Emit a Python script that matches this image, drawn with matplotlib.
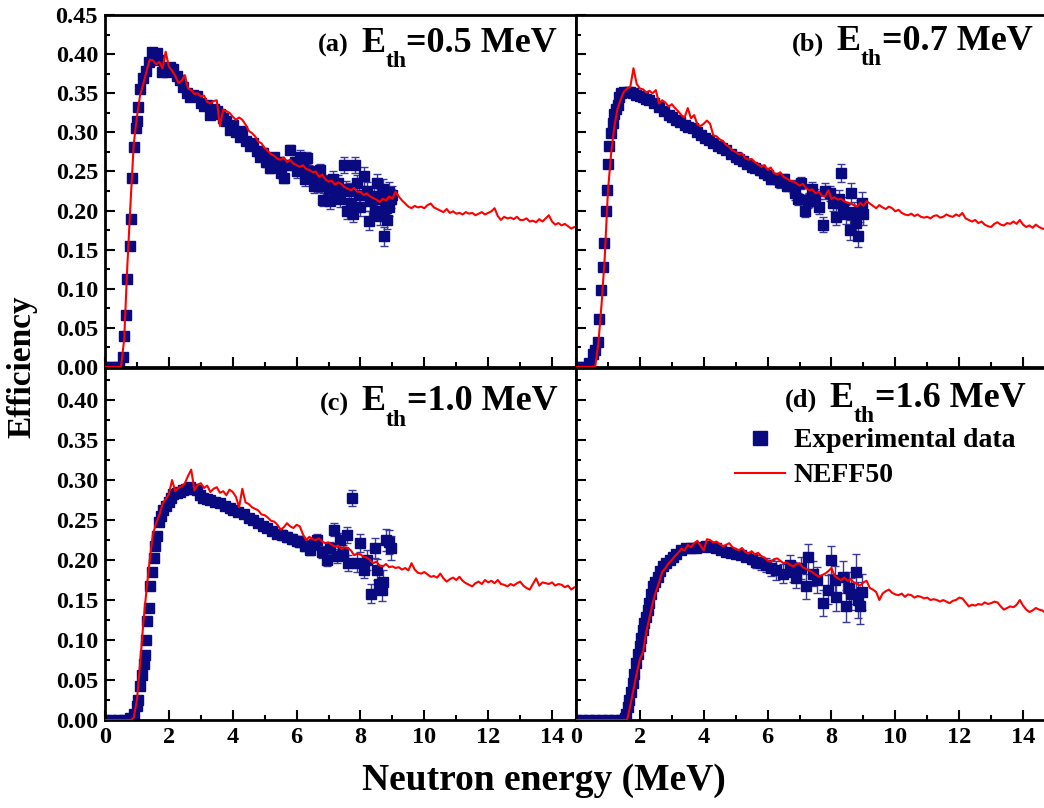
import matplotlib
matplotlib.use('Agg')
import matplotlib.pyplot as plt
import numpy as np
from matplotlib.lines import Line2D
from matplotlib.ticker import MultipleLocator, FormatStrFormatter

plt.rcParams['font.family'] = ['Liberation Serif', 'DejaVu Serif']
plt.rcParams['font.weight'] = 'bold'

# NEFF50 simulation, 0.1 MeV bins from 0 to 15 MeV (one row = 1 MeV)
sim_energy = np.round(np.arange(151) * 0.1, 1)

sim_a = [0, 0, 0, 0, 0, 0, 0.035, 0.13, 0.21, 0.285,
         0.320, 0.348, 0.362, 0.378, 0.393, 0.392, 0.387, 0.390, 0.382, 0.403,
         0.384, 0.379, 0.372, 0.363, 0.366, 0.373, 0.356, 0.354, 0.349, 0.350,
         0.346, 0.347, 0.339, 0.337, 0.340, 0.341, 0.308, 0.329, 0.327, 0.325,
         0.320, 0.316, 0.319, 0.316, 0.310, 0.302, 0.299, 0.295, 0.288, 0.286,
         0.280, 0.276, 0.272, 0.270, 0.266, 0.265, 0.268, 0.262, 0.265, 0.260,
         0.258, 0.256, 0.258, 0.253, 0.252, 0.249, 0.250, 0.243, 0.246, 0.240,
         0.237, 0.238, 0.233, 0.236, 0.234, 0.230, 0.228, 0.226, 0.229, 0.224,
         0.224, 0.220, 0.222, 0.218, 0.216, 0.214, 0.211, 0.215, 0.213, 0.218,
         0.215, 0.224, 0.218, 0.213, 0.209, 0.205, 0.203, 0.206, 0.204, 0.205,
         0.203, 0.207, 0.209, 0.204, 0.202, 0.200, 0.198, 0.202, 0.197, 0.199,
         0.196, 0.197, 0.195, 0.198, 0.196, 0.197, 0.194, 0.196, 0.198, 0.195,
         0.197, 0.199, 0.203, 0.193, 0.188, 0.192, 0.190, 0.191, 0.189, 0.192,
         0.188, 0.188, 0.190, 0.186, 0.187, 0.185, 0.189, 0.186, 0.190, 0.194,
         0.186, 0.182, 0.184, 0.181, 0.183, 0.180, 0.177, 0.179, 0.178, 0.177,
         0.176]

sim_b = [0, 0, 0, 0, 0, 0, 0, 0.03, 0.08, 0.14,
         0.225, 0.273, 0.307, 0.330, 0.342, 0.352, 0.356, 0.358, 0.382, 0.362,
         0.356, 0.355, 0.351, 0.353, 0.350, 0.354, 0.337, 0.341, 0.338, 0.333,
         0.336, 0.331, 0.327, 0.322, 0.319, 0.331, 0.318, 0.322, 0.310, 0.308,
         0.311, 0.315, 0.311, 0.296, 0.295, 0.291, 0.289, 0.284, 0.281, 0.277,
         0.275, 0.272, 0.273, 0.267, 0.265, 0.266, 0.262, 0.259, 0.256, 0.258,
         0.252, 0.255, 0.248, 0.246, 0.249, 0.243, 0.241, 0.238, 0.237, 0.235,
         0.232, 0.234, 0.229, 0.226, 0.227, 0.222, 0.224, 0.219, 0.218, 0.226,
         0.215, 0.217, 0.214, 0.215, 0.212, 0.210, 0.209, 0.207, 0.205, 0.210,
         0.206, 0.212, 0.209, 0.206, 0.203, 0.207, 0.204, 0.202, 0.205, 0.203,
         0.199, 0.201, 0.197, 0.195, 0.194, 0.196, 0.193, 0.195, 0.192, 0.191,
         0.192, 0.190, 0.193, 0.194, 0.191, 0.192, 0.195, 0.193, 0.192, 0.195,
         0.193, 0.197, 0.190, 0.188, 0.186, 0.188, 0.184, 0.186, 0.182, 0.180,
         0.179, 0.183, 0.185, 0.182, 0.181, 0.184, 0.183, 0.186, 0.183, 0.188,
         0.182, 0.179, 0.181, 0.178, 0.182, 0.179, 0.177, 0.176, 0.178, 0.175,
         0.176]

sim_c = [0, 0, 0, 0, 0, 0, 0, 0, 0, 0.003,
         0.025, 0.071, 0.121, 0.163, 0.200, 0.232, 0.246, 0.256, 0.270, 0.276,
         0.282, 0.300, 0.286, 0.290, 0.292, 0.296, 0.305, 0.313, 0.287, 0.294,
         0.296, 0.290, 0.293, 0.285, 0.289, 0.291, 0.284, 0.286, 0.281, 0.288,
         0.285, 0.279, 0.266, 0.289, 0.272, 0.270, 0.266, 0.264, 0.262, 0.257,
         0.256, 0.253, 0.249, 0.248, 0.244, 0.238, 0.241, 0.246, 0.242, 0.240,
         0.244, 0.242, 0.232, 0.225, 0.229, 0.226, 0.225, 0.227, 0.223, 0.221,
         0.222, 0.219, 0.217, 0.218, 0.214, 0.216, 0.215, 0.212, 0.206, 0.208,
         0.207, 0.204, 0.203, 0.200, 0.196, 0.198, 0.193, 0.192, 0.195, 0.191,
         0.192, 0.190, 0.191, 0.188, 0.190, 0.187, 0.196, 0.188, 0.184, 0.183,
         0.185, 0.182, 0.179, 0.180, 0.178, 0.183, 0.177, 0.173, 0.176, 0.178,
         0.175, 0.179, 0.174, 0.171, 0.169, 0.167, 0.171, 0.173, 0.170, 0.175,
         0.172, 0.174, 0.171, 0.175, 0.170, 0.169, 0.167, 0.170, 0.168, 0.171,
         0.173, 0.168, 0.165, 0.163, 0.170, 0.177, 0.168, 0.172, 0.171, 0.170,
         0.172, 0.168, 0.170, 0.169, 0.166, 0.168, 0.163, 0.166, 0.165, 0.167,
         0.165]

sim_d = [0, 0, 0, 0, 0, 0, 0, 0, 0, 0,
         0, 0, 0, 0, 0, 0, 0, 0.018, 0.038, 0.058,
         0.076, 0.085, 0.110, 0.128, 0.146, 0.160, 0.172, 0.185, 0.190, 0.196,
         0.200, 0.205, 0.209, 0.214, 0.212, 0.219, 0.216, 0.221, 0.224, 0.218,
         0.212, 0.226, 0.225, 0.222, 0.223, 0.220, 0.217, 0.219, 0.221, 0.216,
         0.214, 0.212, 0.215, 0.210, 0.208, 0.211, 0.207, 0.209, 0.205, 0.203,
         0.199, 0.198, 0.201, 0.202, 0.199, 0.196, 0.197, 0.194, 0.192, 0.195,
         0.196, 0.191, 0.189, 0.187, 0.185, 0.182, 0.179, 0.181, 0.183, 0.186,
         0.190, 0.180, 0.177, 0.175, 0.178, 0.174, 0.176, 0.172, 0.170, 0.168,
         0.172, 0.174, 0.165, 0.163, 0.160, 0.150, 0.158, 0.161, 0.163, 0.159,
         0.157, 0.156, 0.158, 0.154, 0.157, 0.156, 0.153, 0.155, 0.154, 0.152,
         0.153, 0.150, 0.151, 0.150, 0.148, 0.150, 0.148, 0.146, 0.149, 0.150,
         0.153, 0.152, 0.147, 0.142, 0.144, 0.143, 0.145, 0.144, 0.147, 0.145,
         0.146, 0.148, 0.147, 0.142, 0.138, 0.140, 0.142, 0.141, 0.144, 0.150,
         0.143, 0.138, 0.135, 0.137, 0.140, 0.138, 0.137, 0.134, 0.139, 0.136,
         0.137]

# experimental data: (energy MeV, efficiency, error)
exp_a = [(0.0, 0, 0), (0.15, 0, 0), (0.3, 0, 0), (0.45, 0, .002),
         (0.575, 0.013, .003), (0.60, 0.039, .003), (0.65, 0.067, .003), (0.69, 0.113, .003),
         (0.77, 0.155, .003), (0.81, 0.189, .003), (0.85, 0.241, .003), (0.90, 0.281, .003),
         (0.96, 0.306, .003), (0.99, 0.314, .003), (1.04, 0.333, .003), (1.10, 0.356, .003),
         (1.18, 0.369, .003), (1.27, 0.379, .004), (1.38, 0.390, .004), (1.48, 0.403, .004),
         (1.55, 0.398, .004), (1.62, 0.401, .004), (1.70, 0.392, .004), (1.78, 0.377, .004),
         (1.85, 0.380, .004), (1.93, 0.377, .004), (2.03, 0.383, .004), (2.14, 0.381, .004),
         (2.25, 0.372, .004), (2.35, 0.367, .004), (2.45, 0.358, .004), (2.56, 0.350, .004),
         (2.65, 0.345, .004), (2.75, 0.348, .004), (2.87, 0.346, .004), (3.0, 0.338, .004),
         (3.1, 0.334, .004), (3.19, 0.335, .004), (3.29, 0.322, .004), (3.4, 0.330, .005),
         (3.5, 0.327, .005), (3.6, 0.324, .005), (3.7, 0.318, .005), (3.8, 0.315, .005),
         (3.92, 0.303, .005), (4.0, 0.310, .005), (4.1, 0.300, .005), (4.23, 0.294, .005),
         (4.3, 0.302, .005), (4.4, 0.289, .005), (4.55, 0.282, .005), (4.65, 0.287, .005),
         (4.75, 0.276, .006), (4.86, 0.269, .006), (4.95, 0.274, .006), (5.05, 0.262, .006),
         (5.17, 0.254, .006), (5.3, 0.268, .006), (5.45, 0.262, .006), (5.5, 0.248, .006),
         (5.6, 0.241, .006), (5.7, 0.258, .006), (5.8, 0.278, .006), (5.95, 0.262, .006),
         (6.0, 0.250, .008), (6.11, 0.269, .008), (6.2, 0.255, .008), (6.25, 0.240, .008),
         (6.32, 0.267, .008), (6.4, 0.250, .008), (6.53, 0.231, .008), (6.6, 0.245, .008),
         (6.7, 0.232, .008), (6.74, 0.252, .008), (6.84, 0.214, .008), (6.9, 0.238, .008),
         (7.0, 0.228, .01), (7.05, 0.212, .01), (7.15, 0.240, .01), (7.2, 0.222, .01),
         (7.3, 0.235, .01), (7.35, 0.215, .01), (7.47, 0.258, .01), (7.55, 0.228, .01),
         (7.58, 0.199, .01), (7.65, 0.225, .01), (7.7, 0.210, .01), (7.78, 0.195, .01),
         (7.84, 0.258, .01), (7.89, 0.235, .01), (7.95, 0.220, .01), (8.0, 0.205, .012),
         (8.1, 0.244, .012), (8.2, 0.225, .012), (8.26, 0.187, .012), (8.3, 0.212, .012),
         (8.41, 0.219, .012), (8.45, 0.200, .012), (8.52, 0.235, .012), (8.6, 0.215, .012),
         (8.62, 0.193, .012), (8.7, 0.228, .012), (8.73, 0.167, .012), (8.75, 0.200, .012),
         (8.8, 0.203, .012), (8.83, 0.188, .012), (8.88, 0.224, .012), (8.9, 0.205, .012),
         (8.95, 0.215, .012), (9.0, 0.220, .012)]

exp_b = [(0.0, 0, 0), (0.15, 0, 0), (0.3, 0, 0), (0.42, 0.005, .003),
         (0.52, 0.017, .003), (0.6, 0.022, .003), (0.68, 0.032, .003), (0.73, 0.062, .003),
         (0.78, 0.098, .003), (0.84, 0.128, .003), (0.89, 0.159, .003), (0.94, 0.200, .003),
         (0.97, 0.226, .003), (1.01, 0.260, .003), (1.04, 0.283, .003), (1.10, 0.299, .003),
         (1.15, 0.312, .003), (1.20, 0.324, .003), (1.25, 0.330, .003), (1.31, 0.335, .003),
         (1.36, 0.345, .003), (1.41, 0.350, .003), (1.5, 0.352, .003), (1.62, 0.352, .003),
         (1.7, 0.351, .003), (1.78, 0.350, .003), (1.88, 0.348, .003), (1.99, 0.346, .003),
         (2.1, 0.345, .003), (2.2, 0.342, .003), (2.3, 0.341, .003), (2.45, 0.337, .003),
         (2.6, 0.333, .003), (2.75, 0.327, .003), (2.9, 0.322, .003), (3.0, 0.320, .003),
         (3.13, 0.316, .004), (3.25, 0.313, .004), (3.4, 0.309, .004), (3.52, 0.307, .004),
         (3.66, 0.305, .004), (3.8, 0.300, .004), (3.92, 0.296, .004), (4.05, 0.293, .004),
         (4.18, 0.290, .004), (4.3, 0.287, .004), (4.45, 0.283, .004), (4.58, 0.280, .004),
         (4.7, 0.277, .004), (4.85, 0.272, .005), (5.0, 0.268, .005), (5.1, 0.266, .005),
         (5.22, 0.263, .005), (5.35, 0.259, .005), (5.5, 0.256, .005), (5.62, 0.255, .005),
         (5.75, 0.252, .006), (5.88, 0.248, .006), (6.0, 0.246, .006), (6.1, 0.240, .006),
         (6.27, 0.241, .007), (6.4, 0.236, .007), (6.5, 0.240, .007), (6.6, 0.232, .007),
         (6.79, 0.231, .008), (6.85, 0.222, .008), (6.95, 0.215, .008), (7.05, 0.235, .008),
         (7.16, 0.200, .008), (7.25, 0.212, .009), (7.31, 0.214, .009), (7.4, 0.228, .009),
         (7.5, 0.218, .009), (7.6, 0.205, .01), (7.73, 0.182, .01), (7.8, 0.225, .01),
         (7.94, 0.222, .01), (8.05, 0.210, .011), (8.15, 0.192, .011), (8.25, 0.215, .011),
         (8.31, 0.248, .012), (8.36, 0.205, .012), (8.45, 0.195, .012), (8.57, 0.175, .013),
         (8.62, 0.222, .013), (8.7, 0.198, .013), (8.78, 0.184, .014), (8.83, 0.168, .014),
         (8.88, 0.200, .014), (8.95, 0.210, .014), (9.0, 0.195, .014)]

exp_c = [(0.0, 0, 0), (0.2, 0, 0), (0.4, 0, 0), (0.6, 0, 0), (0.78, 0.002, .003),
         (0.9, 0.008, .003), (0.99, 0.017, .003), (1.04, 0.025, .003), (1.11, 0.042, .003),
         (1.17, 0.056, .003), (1.21, 0.070, .003), (1.25, 0.081, .003), (1.28, 0.100, .003),
         (1.33, 0.124, .003), (1.37, 0.140, .003), (1.41, 0.168, .003), (1.48, 0.185, .003),
         (1.53, 0.203, .003), (1.58, 0.218, .003), (1.64, 0.230, .003), (1.69, 0.248, .003),
         (1.75, 0.255, .003), (1.83, 0.263, .003), (1.9, 0.268, .003), (1.99, 0.273, .003),
         (2.07, 0.278, .003), (2.14, 0.283, .003), (2.25, 0.284, .003), (2.35, 0.285, .003),
         (2.45, 0.287, .003), (2.55, 0.289, .003), (2.66, 0.291, .003), (2.77, 0.289, .003),
         (2.87, 0.287, .003), (2.98, 0.281, .003), (3.08, 0.277, .003), (3.2, 0.276, .003),
         (3.29, 0.275, .003), (3.45, 0.273, .004), (3.6, 0.271, .004), (3.75, 0.268, .004),
         (3.9, 0.265, .004), (4.02, 0.262, .004), (4.18, 0.260, .004), (4.34, 0.258, .004),
         (4.5, 0.253, .004), (4.65, 0.250, .005), (4.8, 0.246, .005), (4.95, 0.243, .005),
         (5.07, 0.240, .005), (5.22, 0.236, .005), (5.38, 0.233, .005), (5.55, 0.231, .006),
         (5.7, 0.229, .006), (5.85, 0.226, .006), (6.0, 0.224, .006), (6.11, 0.223, .007),
         (6.25, 0.218, .007), (6.43, 0.213, .007), (6.55, 0.220, .007), (6.63, 0.225, .008),
         (6.8, 0.210, .008), (6.95, 0.200, .008), (7.05, 0.215, .008), (7.16, 0.238, .008),
         (7.25, 0.205, .009), (7.37, 0.225, .009), (7.45, 0.210, .009), (7.58, 0.231, .01),
         (7.6, 0.196, .01), (7.75, 0.278, .01), (7.89, 0.196, .011), (8.0, 0.221, .011),
         (8.1, 0.188, .011), (8.2, 0.200, .012), (8.33, 0.158, .012), (8.46, 0.215, .012),
         (8.51, 0.188, .013), (8.57, 0.170, .013), (8.67, 0.163, .014), (8.72, 0.173, .014),
         (8.8, 0.225, .014), (8.88, 0.223, .015), (8.95, 0.215, .015)]

exp_d = [(0.0, 0, 0), (0.2, 0, 0), (0.4, 0, 0), (0.6, 0, 0), (0.8, 0, 0), (1.0, 0, 0),
         (1.2, 0, 0), (1.4, 0, 0), (1.52, 0.003, .003),
         (1.57, 0.008, .003), (1.62, 0.016, .003), (1.67, 0.025, .003), (1.72, 0.035, .003),
         (1.78, 0.046, .003), (1.83, 0.058, .003), (1.88, 0.071, .003), (1.94, 0.082, .003),
         (1.99, 0.092, .003), (2.04, 0.103, .003), (2.09, 0.113, .003), (2.14, 0.121, .003),
         (2.19, 0.129, .003), (2.25, 0.138, .003), (2.30, 0.146, .003), (2.35, 0.157, .003),
         (2.40, 0.167, .003), (2.48, 0.173, .003), (2.56, 0.179, .003), (2.64, 0.186, .003),
         (2.72, 0.192, .003), (2.82, 0.196, .003), (2.93, 0.200, .003), (3.03, 0.204, .003),
         (3.13, 0.208, .003), (3.3, 0.212, .003), (3.45, 0.215, .003), (3.6, 0.215, .003),
         (3.76, 0.215, .004), (3.92, 0.216, .004), (4.08, 0.217, .004), (4.23, 0.216, .004),
         (4.39, 0.215, .004), (4.55, 0.213, .004), (4.7, 0.210, .004), (4.85, 0.209, .005),
         (5.02, 0.208, .005), (5.18, 0.206, .005), (5.33, 0.204, .005), (5.5, 0.201, .006),
         (5.64, 0.198, .008), (5.8, 0.196, .008), (5.96, 0.194, .009), (6.1, 0.190, .01),
         (6.27, 0.187, .012), (6.48, 0.183, .012), (6.69, 0.194, .012), (6.8, 0.185, .012),
         (6.9, 0.177, .012), (7.05, 0.190, .014), (7.21, 0.167, .016), (7.25, 0.204, .016),
         (7.42, 0.183, .016), (7.55, 0.175, .016), (7.73, 0.146, .016), (7.89, 0.163, .018),
         (7.99, 0.200, .018), (8.1, 0.175, .018), (8.15, 0.154, .018), (8.36, 0.179, .02),
         (8.46, 0.142, .02), (8.55, 0.165, .02), (8.62, 0.158, .02), (8.78, 0.185, .022),
         (8.83, 0.150, .022), (8.88, 0.142, .022), (8.95, 0.160, .022)]

tags = ['(a)', '(b)', '(c)', '(d)']
thresholds = ['0.5', '0.7', '1.0', '1.6']

navy = '#0a0a80'
bar_col = '#3a3a98'


def panel_label(ax, tag, eth, xr, yb):
    # "(a)  E_th=0.5 MeV", built right to left so it ends at xr
    rest = ax.text(xr, yb, '=' + eth + ' MeV', transform=ax.transAxes,
                   ha='right', va='baseline', fontsize=26)
    sub = ax.annotate('th', xy=(0, yb), xycoords=(rest, 'axes fraction'),
                      xytext=(0, -11), textcoords='offset points',
                      ha='right', va='baseline', fontsize=17)
    big = ax.annotate('E', xy=(0, yb), xycoords=(sub, 'axes fraction'),
                      xytext=(0, 0), textcoords='offset points',
                      ha='right', va='baseline', fontsize=26)
    ax.annotate(tag, xy=(0, yb), xycoords=(big, 'axes fraction'),
                xytext=(-9, 0), textcoords='offset points',
                ha='right', va='baseline', fontsize=19)


def draw_panel(ax, exp, sim, ytop):
    e, v, err = np.array(exp).T
    ax.errorbar(e, v, yerr=err, fmt='s', ms=6.5, color=navy, mec=navy,
                ecolor=bar_col, elinewidth=1, capsize=3, capthick=1, zorder=2)
    ax.plot(sim_energy, sim, color='red', lw=1.5, zorder=3)
    ax.set_xlim(0, 14.75)
    ax.set_ylim(0, ytop)
    ax.xaxis.set_major_locator(MultipleLocator(2))
    ax.xaxis.set_minor_locator(MultipleLocator(1))
    ax.yaxis.set_major_locator(MultipleLocator(0.05))
    ax.yaxis.set_minor_locator(MultipleLocator(0.025))
    ax.yaxis.set_major_formatter(FormatStrFormatter('%.2f'))
    ax.tick_params(which='both', direction='in', width=1.5, labelsize=17.5)
    ax.tick_params(which='major', length=7, pad=5)
    ax.tick_params(which='minor', length=3.5)
    for s in ax.spines.values():
        s.set_linewidth(2)


fig = plt.figure(figsize=(10.44, 8.08), dpi=100)
L, W, H = 105 / 1044, 471 / 1044, 352 / 808
axa = fig.add_axes([L, 441 / 808, W, H])
axb = fig.add_axes([L + W, 441 / 808, W, H])
axc = fig.add_axes([L, 88 / 808, W, H])
axd = fig.add_axes([L + W, 88 / 808, W, H])

draw_panel(axa, exp_a, sim_a, 0.45)
draw_panel(axb, exp_b, sim_b, 0.45)
draw_panel(axc, exp_c, sim_c, 0.44)
draw_panel(axd, exp_d, sim_d, 0.44)

panel_label(axa, tags[0], thresholds[0], 0.96, 0.895)
panel_label(axb, tags[1], thresholds[1], 0.97, 0.90)
panel_label(axc, tags[2], thresholds[2], 0.96, 0.88)
panel_label(axd, tags[3], thresholds[3], 0.955, 0.889)

axa.tick_params(labelbottom=False)
axb.tick_params(labelbottom=False, labelleft=False)
axd.tick_params(labelleft=False)

handles = [Line2D([], [], ls='none', marker='s', ms=10, color=navy),
           Line2D([], [], color='red', lw=1.5)]
axd.legend(handles, ['Experimental data', 'NEFF50'], loc='upper left',
           bbox_to_anchor=(0.338, 0.83), frameon=False, fontsize=20,
           handlelength=1.8, handletextpad=0.3, labelspacing=0.35,
           borderpad=0, borderaxespad=0)

fig.text(22 / 1044, 1 - 367 / 808, 'Efficiency', rotation=90,
         ha='center', va='center', fontsize=24)
fig.text(544 / 1044, 1 - 781 / 808, 'Neutron energy (MeV)',
         ha='center', va='center', fontsize=27)

fig.savefig('out.png', dpi=100)
